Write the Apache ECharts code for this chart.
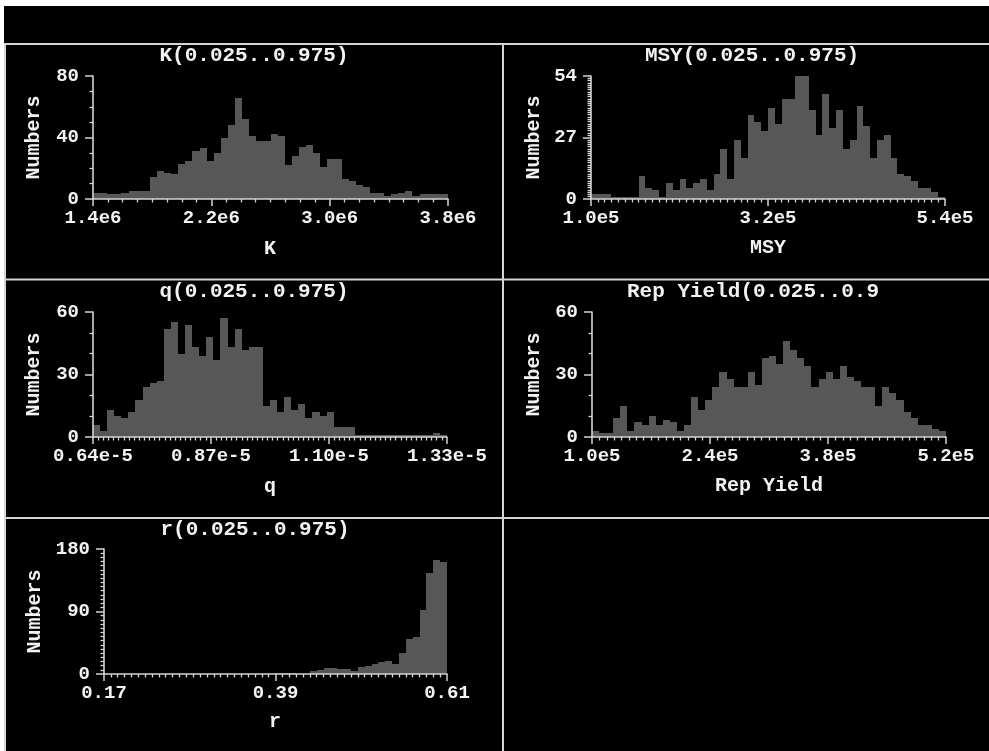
<!DOCTYPE html>
<html><head><meta charset="utf-8">
<script src="https://cdn.jsdelivr.net/npm/echarts@6/dist/echarts.min.js"></script>
<style>html,body{margin:0;padding:0;background:#fff;}#c{width:989px;height:751px;}</style>
</head><body><div id="c"></div>
<script>
// ---------- data ----------
const kTicks = ['1.4e6','2.2e6','3.0e6','3.8e6'];
const kYTicks = [0, 40, 80];
const kCounts = [4,4,3,3,4,5,5,5,14,18,17,16,23,25,31,33,25,30,40,48,66,52,41,38,38,42,41,22,28,34,35,30,21,26,26,13,12,9,8,4,4,2,3,4,5,2,3,3,3,3];

const msyTicks = ['1.0e5','3.2e5','5.4e5'];
const msyYTicks = [0, 27, 54];
const msyCounts = [2,2,2,1,1,1,1,10,5,4,1,7,4,9,5,7,9,4,11,22,9,26,18,37,34,30,40,33,44,44,54,54,39,28,46,31,39,22,26,41,32,18,26,28,18,11,10,8,5,5,3,1];

const qTicks = ['0.64e-5','0.87e-5','1.10e-5','1.33e-5'];
const qYTicks = [0, 30, 60];
const qCounts = [6,3,13,10,9,12,18,24,26,27,52,55,40,54,43,39,48,37,57,43,52,42,43,43,15,18,12,19,13,16,9,12,10,12,5,5,5,1,1,1,1,1,1,1,1,1,1,1,2,1];

const repTicks = ['1.0e5','2.4e5','3.8e5','5.2e5'];
const repYTicks = [0, 30, 60];
const repCounts = [3,2,2,9,15,3,7,6,10,6,8,7,3,6,19,13,18,24,31,28,24,24,31,25,38,39,35,46,42,38,34,24,28,31,28,34,29,27,24,24,15,24,21,18,12,9,6,6,4,3];

const rTicks = ['0.17','0.39','0.61'];
const rYTicks = [0, 90, 180];
const rCounts = [0,0,0,0,0,0,0,0,0,0,0,0,0,0,0,0,0,0,0,0,0,0,0,0,0,2,2,1,0,0,5,6,8,9,7,7,5,10,12,14,17,19,15,30,50,54,92,146,164,162];

const titles = ['K(0.025..0.975)','MSY(0.025..0.975)','q(0.025..0.975)','Rep Yield(0.025..0.9','r(0.025..0.975)'];
const xNames = ['K','MSY','q','Rep Yield','r'];
const yName = 'Numbers';

// ---------- layout ----------
const panels = [
  {counts:kCounts, xt:kTicks, yt:kYTicks, xminor:8, yminor:4,
   grid:{left:93,top:76,width:355,height:123}, t:[254,56], n:[270,249], yn:[34,137.5]},
  {counts:msyCounts, xt:msyTicks, yt:msyYTicks, xminor:26, yminor:27,
   grid:{left:591,top:76,width:354,height:123}, t:[752,56], n:[768,248], yn:[534,137.5]},
  {counts:qCounts, xt:qTicks, yt:qYTicks, xminor:23, yminor:3,
   grid:{left:93,top:312,width:354,height:125}, t:[254,292], n:[270,487], yn:[34,374.5]},
  {counts:repCounts, xt:repTicks, yt:repYTicks, xminor:16, yminor:3,
   grid:{left:592,top:312,width:354,height:125}, t:[753,292], n:[769,486], yn:[534,374.5]},
  {counts:rCounts, xt:rTicks, yt:rYTicks, xminor:25, yminor:15,
   grid:{left:104,top:549,width:343,height:125}, t:[255,530], n:[275,722], yn:[35,611.5]}
];

const FONT = '"Liberation Mono", "DejaVu Sans Mono", monospace';
const TXT = '#f2f2f2';
const LINE = '#d4d4d4';
const BAR = '#575757';

const grids = [], xAxes = [], yAxes = [], series = [];
panels.forEach((p, i) => {
  grids.push(Object.assign({outerBoundsMode:'none', containLabel:false}, p.grid));
  const xmax = p.xt.length - 1;
  const xt = p.xt;
  xAxes.push({
    type:'value', gridIndex:i, min:0, max:xmax, interval:1, z:3,
    axisLine:{show:true, onZero:false, lineStyle:{color:LINE, width:1.6}},
    axisTick:{show:true, inside:false, length:7, lineStyle:{color:LINE, width:1.5}},
    minorTick:{show:true, splitNumber:p.xminor, length:3.5, lineStyle:{color:LINE, width:1.3}},
    splitLine:{show:false}, minorSplitLine:{show:false},
    axisLabel:{show:true, margin:10, color:TXT, fontFamily:FONT, fontWeight:'bold', fontSize:19,
      formatter:(v)=>{const k=Math.round(v); return Math.abs(v-k)<1e-6 ? xt[k] : '';}}
  });
  const ymax = p.yt[p.yt.length-1];
  yAxes.push({
    type:'value', gridIndex:i, min:p.yt[0], max:ymax, interval:p.yt[1]-p.yt[0], z:3,
    axisLine:{show:true, onZero:false, lineStyle:{color:LINE, width:1.6}},
    axisTick:{show:true, inside:false, length:8, lineStyle:{color:LINE, width:1.5}},
    minorTick:{show:true, splitNumber:p.yminor, length:3.5, lineStyle:{color:LINE, width:1.3}},
    splitLine:{show:false}, minorSplitLine:{show:false},
    axisLabel:{show:true, margin:14, color:TXT, fontFamily:FONT, fontWeight:'bold', fontSize:19}
  });
  const n = p.counts.length;
  const step = xmax / n;
  series.push({
    type:'custom', xAxisIndex:i, yAxisIndex:i, z:2, silent:true,
    encode:{x:[0,1], y:2},
    data: p.counts.map((c,j)=>[j*step, (j+1)*step, c]),
    renderItem:(params, api)=>{
      const a = api.coord([api.value(0), 0]);
      const b = api.coord([api.value(1), api.value(2)]);
      const x0 = Math.round(a[0]), x1 = Math.round(b[0]);
      const y0 = Math.round(a[1]), y1 = Math.round(b[1]);
      return {type:'rect', shape:{x:x0, y:y1, width:x1-x0, height:y0-y1},
        style:{fill:BAR}};
    }
  });
});

const graphic = [
  {type:'rect', shape:{x:0,y:0,width:989,height:6}, style:{fill:'#fff'}, silent:true},
  {type:'rect', shape:{x:0,y:0,width:4,height:751}, style:{fill:'#fff'}, silent:true},
  {type:'line', shape:{x1:4,y1:44,x2:989,y2:44}, style:{stroke:LINE, lineWidth:2}, silent:true},
  {type:'line', shape:{x1:4,y1:279.5,x2:989,y2:279.5}, style:{stroke:LINE, lineWidth:2}, silent:true},
  {type:'line', shape:{x1:4,y1:518,x2:989,y2:518}, style:{stroke:LINE, lineWidth:2}, silent:true},
  {type:'line', shape:{x1:5,y1:44,x2:5,y2:751}, style:{stroke:LINE, lineWidth:2}, silent:true},
  {type:'line', shape:{x1:503,y1:44,x2:503,y2:751}, style:{stroke:LINE, lineWidth:2}, silent:true}
];
panels.forEach((p,i)=>{
  graphic.push({type:'text', x:p.t[0], y:p.t[1], silent:true,
    style:{text:titles[i], fill:TXT, font:'bold 21px '+FONT, align:'center', verticalAlign:'middle'}});
  graphic.push({type:'text', x:p.n[0], y:p.n[1], silent:true,
    style:{text:xNames[i], fill:TXT, font:'bold 20px '+FONT, align:'center', verticalAlign:'middle'}});
  graphic.push({type:'text', x:p.yn[0], y:p.yn[1], rotation:Math.PI/2, silent:true,
    style:{text:yName, fill:TXT, font:'bold 20px '+FONT, align:'center', verticalAlign:'middle'}});
});

const chart = echarts.init(document.getElementById('c'), null, {renderer:'canvas'});
chart.setOption({
  backgroundColor:'#000',
  animation:false,
  grid:grids, xAxis:xAxes, yAxis:yAxes, series:series, graphic:graphic
});
</script>
</body></html>
